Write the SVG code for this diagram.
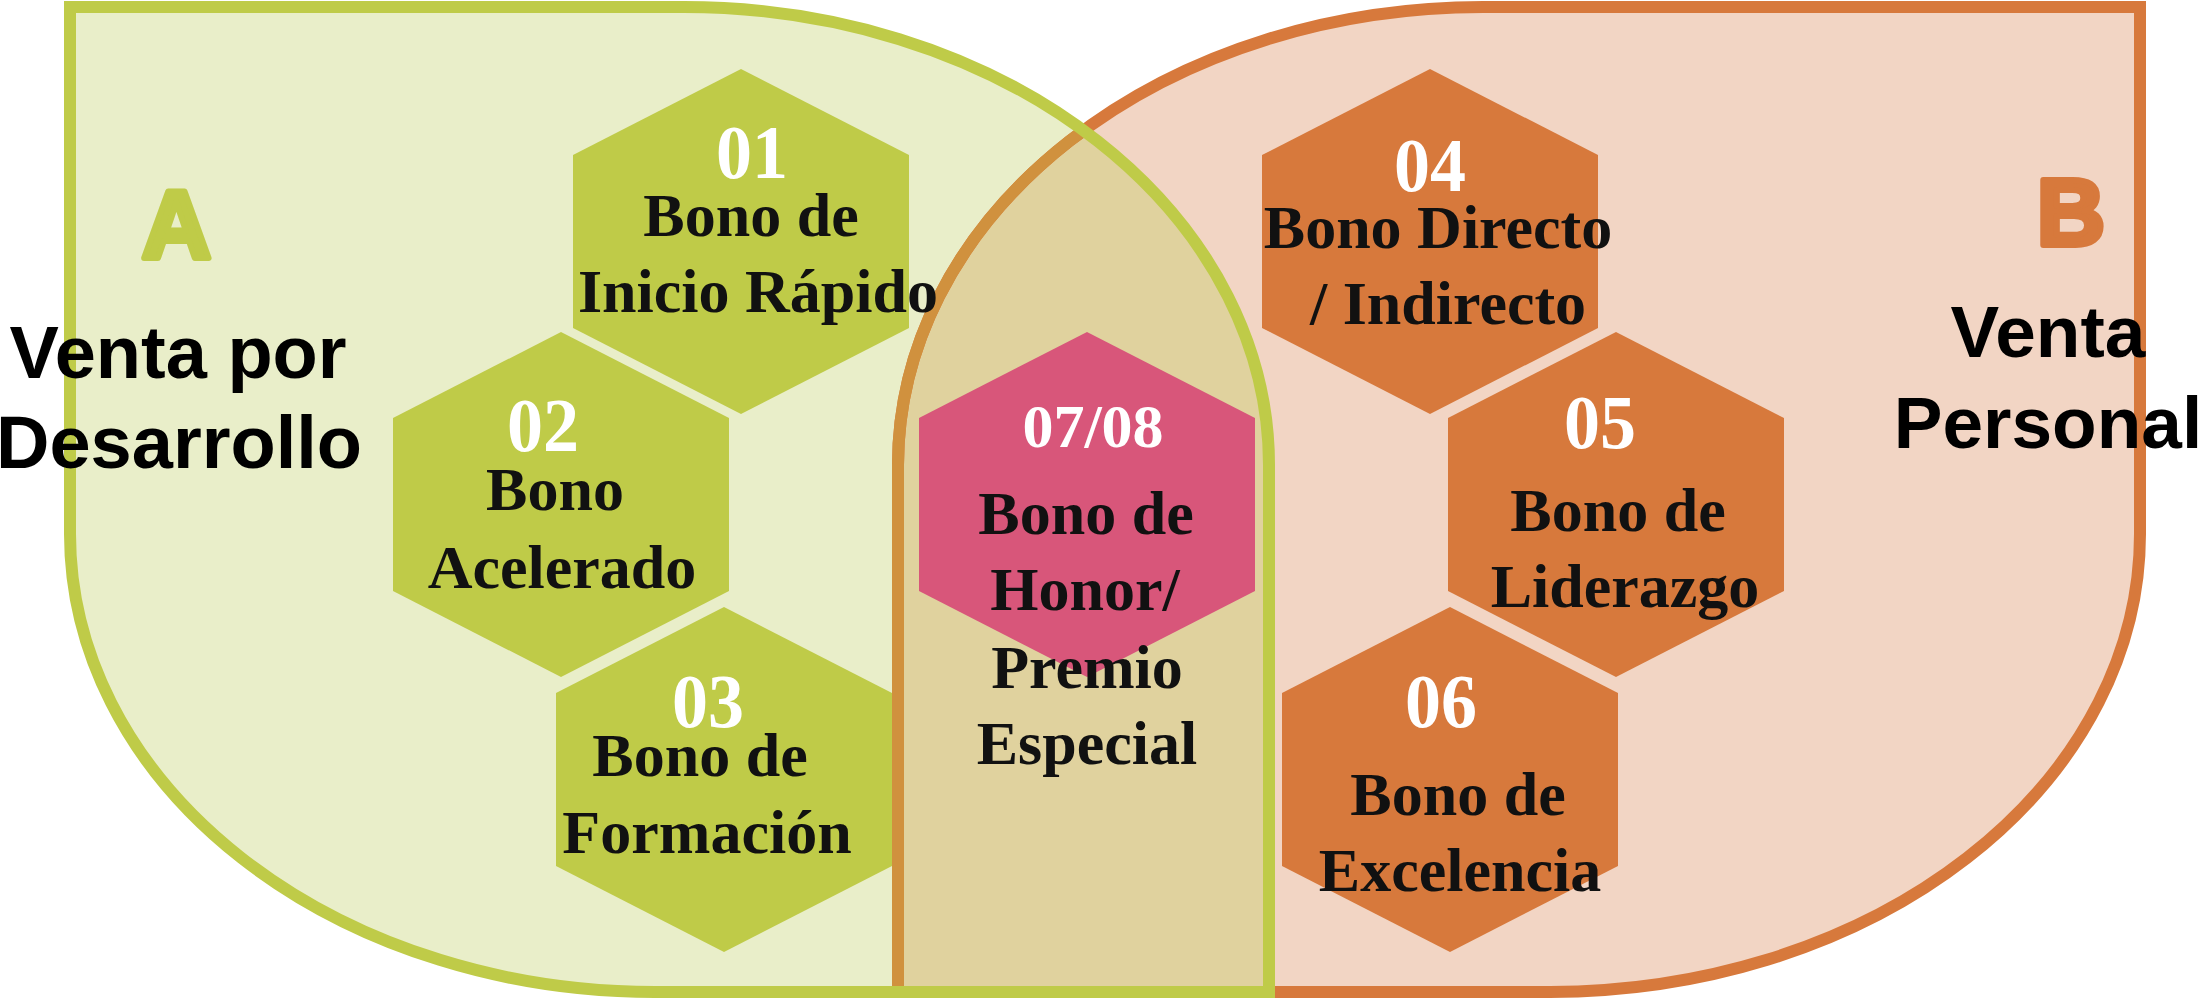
<svg xmlns="http://www.w3.org/2000/svg" xmlns:xlink="http://www.w3.org/1999/xlink" width="2204" height="998" viewBox="0 0 2204 998">
  <style>
    .hexG { fill: #BFCB48; }
    .hexO { fill: #D7793C; }
    .hexP { fill: #D8567A; }
    .num { font-family: "Liberation Serif", "Times New Roman", serif; font-weight: bold; font-size: 76px; fill: #FFFFFF; text-anchor: middle; }
    .lbl { font-family: "Liberation Serif", "Times New Roman", serif; font-weight: bold; font-size: 62px; fill: #111111; text-anchor: middle; }
    .big { font-family: "Liberation Sans", Arial, sans-serif; font-weight: bold; font-size: 74px; fill: #000000; text-anchor: middle; }
    .letter { font-family: "Liberation Sans", Arial, sans-serif; font-weight: bold; text-anchor: middle; stroke-width: 6; stroke-linejoin: round; }
  </style>
  <defs>
    <path id="shapeA" d="M70,7 H684 A585,458 0 0 1 1269,465 V992 H655 A585,458 0 0 1 70,534 Z"/>
    <path id="shapeB" d="M898,465 A585,458 0 0 1 1483,7 H2140 V534 A590,458 0 0 1 1550,992 H898 Z"/>
    <clipPath id="clipA"><use xlink:href="#shapeA"/></clipPath>
    <clipPath id="clipB"><use xlink:href="#shapeB"/></clipPath>
    <path id="hex" d="M0,-172.5 L168,-86.5 L168,86.5 L0,172.5 L-168,86.5 L-168,-86.5 Z"/>
  </defs>

  <g id="region-a-fill">
    <use xlink:href="#shapeA" fill="#E9EEC9"/>
  </g>
  <g id="region-b-fill">
    <use xlink:href="#shapeB" fill="#F2D5C4"/>
  </g>
  <g id="overlap">
    <use xlink:href="#shapeA" fill="#E0D29E" clip-path="url(#clipB)"/>
  </g>
  <g id="region-b-outline">
    <use xlink:href="#shapeB" fill="none" stroke="#D7793C" stroke-width="12"/>
    <g clip-path="url(#clipA)">
      <use xlink:href="#shapeB" fill="none" stroke="#D0913E" stroke-width="12"/>
    </g>
  </g>
  <g id="region-a-outline">
    <use xlink:href="#shapeA" fill="none" stroke="#BFCB48" stroke-width="12"/>
  </g>

  <g id="connectors"></g>

  <g id="node-01">
    <use xlink:href="#hex" class="hexG" x="741" y="241.5"/>
    <text class="num" x="752" y="178" textLength="72" lengthAdjust="spacingAndGlyphs">01</text>
    <text class="lbl" x="751" y="236">Bono de</text>
    <text class="lbl" x="758" y="312">Inicio Rápido</text>
  </g>
  <g id="node-02">
    <use xlink:href="#hex" class="hexG" x="561" y="504.5"/>
    <text class="num" x="543" y="451" textLength="72" lengthAdjust="spacingAndGlyphs">02</text>
    <text class="lbl" x="555" y="510">Bono</text>
    <text class="lbl" x="562" y="588">Acelerado</text>
  </g>
  <g id="node-03">
    <use xlink:href="#hex" class="hexG" x="724" y="779.5"/>
    <text class="num" x="708" y="727" textLength="72" lengthAdjust="spacingAndGlyphs">03</text>
    <text class="lbl" x="700" y="776">Bono de</text>
    <text class="lbl" x="707" y="853">Formación</text>
  </g>
  <g id="node-0708">
    <use xlink:href="#hex" class="hexP" x="1087" y="504.5"/>
    <text class="num" x="1093" y="447" style="font-size:62px">07/08</text>
    <text class="lbl" x="1086" y="534">Bono de</text>
    <text class="lbl" x="1085" y="610">Honor/</text>
    <text class="lbl" x="1087" y="688">Premio</text>
    <text class="lbl" x="1087" y="764">Especial</text>
  </g>
  <g id="node-04">
    <use xlink:href="#hex" class="hexO" x="1430" y="241.5"/>
    <text class="num" x="1430" y="191" textLength="72" lengthAdjust="spacingAndGlyphs">04</text>
    <text class="lbl" x="1438" y="248">Bono Directo</text>
    <text class="lbl" x="1448" y="324">/ Indirecto</text>
  </g>
  <g id="node-05">
    <use xlink:href="#hex" class="hexO" x="1616" y="504.5"/>
    <text class="num" x="1600" y="448" textLength="72" lengthAdjust="spacingAndGlyphs">05</text>
    <text class="lbl" x="1618" y="531">Bono de</text>
    <text class="lbl" x="1625" y="607">Liderazgo</text>
  </g>
  <g id="node-06">
    <use xlink:href="#hex" class="hexO" x="1450" y="779.5"/>
    <text class="num" x="1441" y="727" textLength="72" lengthAdjust="spacingAndGlyphs">06</text>
    <text class="lbl" x="1458" y="815">Bono de</text>
    <text class="lbl" x="1460" y="891">Excelencia</text>
  </g>

  <g id="label-a">
    <text class="letter" x="176.5" y="258" font-size="96" fill="#BFCB48" stroke="#BFCB48">A</text>
    <text class="big" x="178" y="378">Venta por</text>
    <text class="big" x="179" y="468">Desarrollo</text>
  </g>
  <g id="label-b">
    <text class="letter" x="2071" y="245" font-size="94" fill="#D7793C" stroke="#D7793C">B</text>
    <text class="big" x="2048" y="357" style="font-size:73px">Venta</text>
    <text class="big" x="2048" y="448" style="font-size:73px">Personal</text>
  </g>
</svg>
